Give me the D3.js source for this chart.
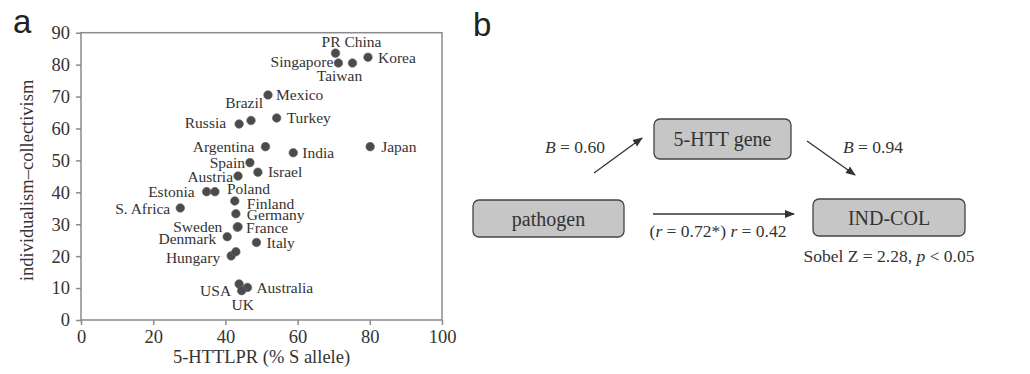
<!DOCTYPE html>
<html>
<head>
<meta charset="utf-8">
<title>5-HTTLPR and individualism-collectivism</title>
<script src="https://d3js.org/d3.v7.min.js"></script>
<style>
  body { margin: 0; background: #fff; }
  text { font-family: "Liberation Serif", "DejaVu Serif", serif; fill: #333; }
  .panel { font-family: "Liberation Sans Narrow", "Liberation Sans", Arial, sans-serif; fill: #222; }
</style>
</head>
<body>
<svg width="1030" height="374"></svg>
<script>
// data (x = % S allele, y = IND-COL score)
const countries = ["PR China", "Singapore", "Taiwan", "Korea", "Mexico", "Brazil", "Russia", "Turkey",
  "Argentina", "India", "Japan", "Spain", "Israel", "Austria", "Estonia", "Poland", "S. Africa",
  "Finland", "Germany", "Sweden", "France", "Denmark", "Italy", "Hungary", "", "USA", "Australia", "UK"];
const sAllele = [70.5, 71.3, 75.2, 79.5, 51.8, 47.1, 43.8, 54.2,
  51.1, 58.8, 80.1, 46.8, 49.0, 43.5, 34.8, 37.1, 27.5,
  42.6, 42.9, 43.3, 43.5, 40.5, 48.6, 41.6, 42.9, 43.8, 46.1, 44.5];
const indCol = [83.6, 80.5, 80.5, 82.3, 70.5, 62.5, 61.4, 63.3,
  54.3, 52.4, 54.3, 49.3, 46.3, 45.1, 40.2, 40.2, 35.1,
  37.3, 33.3, 29.1, 29.2, 26.1, 24.3, 20.1, 21.4, 11.3, 10.2, 9.2];
const xTicks = [0, 20, 40, 60, 80, 100];
const yTicks = [0, 10, 20, 30, 40, 50, 60, 70, 80, 90];

// mediation model values
const pathA = 0.60, pathB = 0.94;
const rTotal = "0.72*", rDirect = 0.42;
const sobelZ = 2.28;

// label placement relative to each dot: [dx, dy, anchor]
const labelPos = {
  "PR China": [16, -6, "middle"], "Singapore": [-5, 4, "end"], "Taiwan": [-13, 18, "middle"],
  "Korea": [10, 6, "start"], "Mexico": [8, 5, "start"], "Brazil": [12, -12, "end"],
  "Russia": [-13, 4, "end"], "Turkey": [10, 5, "start"], "Argentina": [-11, 5, "end"],
  "India": [9, 5, "start"], "Japan": [11, 5, "start"], "Spain": [-5, 5, "end"],
  "Israel": [10, 5, "start"], "Austria": [-5, 6, "end"], "Estonia": [-12, 5, "end"],
  "Poland": [12, 2, "start"], "S. Africa": [-10, 6, "end"], "Finland": [12, 8, "start"],
  "Germany": [11, 6, "start"], "Sweden": [-15, 5, "end"], "France": [8, 6, "start"],
  "Denmark": [-11, 7, "end"], "Italy": [10, 6, "start"], "Hungary": [-11, 7, "end"],
  "USA": [-8, 12, "end"], "Australia": [9, 6, "start"], "UK": [1, 19, "middle"]
};

const svg = d3.select("svg");
const points = countries.map((c, i) => ({name: c, x: sAllele[i], y: indCol[i]}));

// ---------- panel a ----------
const x = d3.scaleLinear().domain([0, 100]).range([81, 442]);
const y = d3.scaleLinear().domain([0, 90]).range([320, 32.7]);

svg.append("text").attr("class", "panel").attr("x", 13).attr("y", 33)
  .attr("font-size", 33).text("a");

svg.append("rect")
  .attr("x", x(0)).attr("y", y(90))
  .attr("width", x(100) - x(0)).attr("height", y(0) - y(90))
  .attr("fill", "none").attr("stroke", "#8a8a8a").attr("stroke-width", 1.5);

const gx = svg.append("g").attr("transform", `translate(0,${y(0)})`)
  .call(d3.axisBottom(x).tickValues(xTicks).tickSize(5).tickPadding(5));
const gy = svg.append("g").attr("transform", `translate(${x(0)},0)`)
  .call(d3.axisLeft(y).tickValues(yTicks).tickSize(5).tickPadding(6));
[gx, gy].forEach(g => {
  g.select(".domain").remove();
  g.selectAll("line").attr("stroke", "#8a8a8a").attr("stroke-width", 1.5);
  g.selectAll("text").attr("font-size", 18.5).attr("fill", "#333")
    .style("font-family", "Liberation Serif, serif");
});

svg.append("text").attr("x", (x(0) + x(100)) / 2).attr("y", 363)
  .attr("text-anchor", "middle").attr("font-size", 18.5)
  .text("5-HTTLPR (% S allele)");
svg.append("text").attr("transform", `translate(33,${(y(0) + y(90)) / 2 + 4}) rotate(-90)`)
  .attr("text-anchor", "middle").attr("font-size", 18.5)
  .text("individualism\u2013collectivism");

svg.append("g").selectAll("circle")
  .data(points).enter().append("circle")
  .attr("cx", d => x(d.x)).attr("cy", d => y(d.y)).attr("r", 4.3)
  .attr("fill", "#4b4b4b").attr("stroke", "#666").attr("stroke-width", 0.6);

svg.append("g").selectAll("text")
  .data(points.filter(d => labelPos[d.name])).enter().append("text")
  .attr("x", d => x(d.x) + labelPos[d.name][0])
  .attr("y", d => y(d.y) + labelPos[d.name][1])
  .attr("text-anchor", d => labelPos[d.name][2])
  .attr("font-size", 15.5)
  .text(d => d.name);

// ---------- panel b ----------
svg.append("text").attr("class", "panel").attr("x", 473).attr("y", 36)
  .attr("font-size", 33).text("b");

const nodes = [
  {id: "gene", label: "5-HTT gene", x: 654, y: 119, w: 137, h: 40},
  {id: "path", label: "pathogen", x: 473, y: 200, w: 151, h: 37},
  {id: "ind", label: "IND-COL", x: 813, y: 199, w: 152, h: 37}
];

const defs = svg.append("defs");
defs.append("marker").attr("id", "head")
  .attr("viewBox", "0 0 10 10").attr("refX", 9).attr("refY", 5)
  .attr("markerWidth", 10).attr("markerHeight", 10).attr("markerUnits", "userSpaceOnUse")
  .attr("orient", "auto")
  .append("path").attr("d", "M0,1 L10,5 L0,9 Z").attr("fill", "#333");

const nodeG = svg.append("g").selectAll("g").data(nodes).enter().append("g");
nodeG.append("rect")
  .attr("x", d => d.x).attr("y", d => d.y).attr("width", d => d.w).attr("height", d => d.h)
  .attr("rx", 6).attr("fill", "#c6c6c6").attr("stroke", "#444").attr("stroke-width", 1.3);
nodeG.append("text")
  .attr("x", d => d.x + d.w / 2).attr("y", d => d.y + d.h / 2 + 7)
  .attr("text-anchor", "middle").attr("font-size", 20).attr("fill", "#2a2a2a")
  .text(d => d.label);

const arrows = [
  [594, 173, 642, 138],
  [807, 141, 855, 175],
  [653, 214, 794, 214]
];
svg.append("g").selectAll("line").data(arrows).enter().append("line")
  .attr("x1", d => d[0]).attr("y1", d => d[1]).attr("x2", d => d[2]).attr("y2", d => d[3])
  .attr("stroke", "#333").attr("stroke-width", 1.3).attr("marker-end", "url(#head)");

function stat(xp, yp, anchor, parts) {
  const t = svg.append("text").attr("x", xp).attr("y", yp)
    .attr("text-anchor", anchor).attr("font-size", 17.5);
  parts.forEach(p => t.append("tspan")
    .attr("font-style", p[1] ? "italic" : null).text(p[0]));
}
stat(545, 153, "start", [["B", true], [" = " + pathA.toFixed(2)]]);
stat(843, 153, "start", [["B", true], [" = " + pathB.toFixed(2)]]);
stat(718, 237, "middle", [["("], ["r", true], [" = " + rTotal + ") "], ["r", true], [" = " + rDirect.toFixed(2)]]);
stat(889, 262, "middle", [["Sobel Z = " + sobelZ.toFixed(2) + ", "], ["p", true], [" < 0.05"]]);
</script>
</body>
</html>
